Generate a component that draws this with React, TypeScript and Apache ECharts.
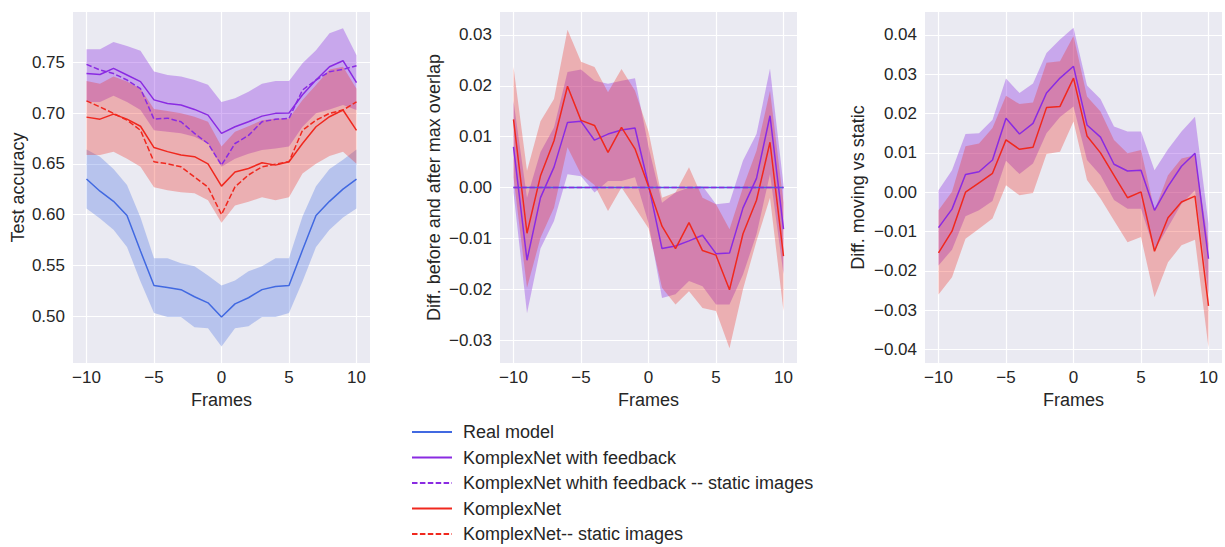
import React, { useEffect, useRef } from 'react';
import * as echarts from 'echarts';

const frames = [-10, -9, -8, -7, -6, -5, -4, -3, -2, -1, 0, 1, 2, 3, 4, 5, 6, 7, 8, 9, 10];
const xTicks = [-10, -5, 0, 5, 10];
const yTicks1 = [0.5, 0.55, 0.6, 0.65, 0.7, 0.75];
const yTicks2 = [-0.03, -0.02, -0.01, 0, 0.01, 0.02, 0.03];
const yTicks3 = [-0.04, -0.03, -0.02, -0.01, 0, 0.01, 0.02, 0.03, 0.04];

const legendNames = [
  'Real model',
  'KomplexNet with feedback',
  'KomplexNet whith feedback -- static images',
  'KomplexNet',
  'KomplexNet-- static images',
];

// Panel 1: test accuracy
const realMean = [0.635, 0.623, 0.613, 0.599, 0.564, 0.530, 0.528, 0.526, 0.519, 0.513, 0.499, 0.512, 0.518, 0.526, 0.529, 0.530, 0.565, 0.599, 0.613, 0.625, 0.635];
const realLo = [0.606, 0.596, 0.585, 0.568, 0.534, 0.503, 0.499, 0.499, 0.489, 0.488, 0.470, 0.488, 0.490, 0.499, 0.499, 0.503, 0.534, 0.568, 0.585, 0.597, 0.606];
const realHi = [0.664, 0.657, 0.645, 0.629, 0.597, 0.557, 0.557, 0.552, 0.549, 0.540, 0.530, 0.535, 0.544, 0.549, 0.557, 0.557, 0.598, 0.628, 0.645, 0.654, 0.664];

const fbMean = [0.739, 0.738, 0.744, 0.7375, 0.731, 0.713, 0.7095, 0.708, 0.7036, 0.698, 0.680, 0.6865, 0.6914, 0.697, 0.6997, 0.700, 0.718, 0.7326, 0.7457, 0.7516, 0.730];
const fbHi = [0.763, 0.763, 0.770, 0.766, 0.7615, 0.741, 0.7375, 0.736, 0.7325, 0.728, 0.711, 0.7145, 0.721, 0.729, 0.7316, 0.7316, 0.749, 0.762, 0.7786, 0.7836, 0.757];
const fbLo = [0.711, 0.711, 0.717, 0.711, 0.703, 0.683, 0.6816, 0.680, 0.6767, 0.670, 0.647, 0.655, 0.660, 0.6635, 0.665, 0.667, 0.6865, 0.6997, 0.7036, 0.708, 0.703];
const fbStatic = [0.748, 0.7424, 0.739, 0.7326, 0.724, 0.694, 0.695, 0.6914, 0.680, 0.670, 0.6487, 0.670, 0.678, 0.6914, 0.6938, 0.6947, 0.7227, 0.7326, 0.7408, 0.743, 0.7467];

const knMean = [0.696, 0.694, 0.699, 0.694, 0.687, 0.666, 0.662, 0.6586, 0.657, 0.650, 0.628, 0.642, 0.6454, 0.651, 0.6487, 0.652, 0.670, 0.6865, 0.6964, 0.703, 0.683];
const knHi = [0.7316, 0.729, 0.736, 0.731, 0.724, 0.704, 0.702, 0.6997, 0.6964, 0.6914, 0.667, 0.6816, 0.687, 0.693, 0.6947, 0.6947, 0.713, 0.7276, 0.743, 0.7457, 0.724];
const knLo = [0.6586, 0.6586, 0.662, 0.655, 0.647, 0.627, 0.624, 0.622, 0.621, 0.614, 0.592, 0.609, 0.6125, 0.617, 0.614, 0.617, 0.6405, 0.650, 0.6576, 0.662, 0.650];
const knStatic = [0.712, 0.706, 0.6997, 0.693, 0.683, 0.652, 0.650, 0.647, 0.637, 0.627, 0.600, 0.6273, 0.639, 0.647, 0.6497, 0.652, 0.683, 0.693, 0.6997, 0.703, 0.711];

// Panel 2: diff before and after max overlap
const zeroLine = [0, 0, 0, 0, 0, 0, 0, 0, 0, 0, 0, 0, 0, 0, 0, 0, 0, 0, 0, 0, 0];
const fbOvMean = [0.008, -0.0143, -0.002, 0.004, 0.0128, 0.013, 0.0093, 0.0105, 0.0113, 0.0117, 0.0005, -0.012, -0.0115, -0.0105, -0.0094, -0.013, -0.0129, -0.004, 0.0018, 0.0141, -0.0082];
const fbOvHi = [0.017, -0.002, 0.007, 0.0118, 0.0227, 0.0232, 0.021, 0.0204, 0.021, 0.0215, 0.008, -0.003, -0.001, 0.0, 0.0003, -0.0033, -0.003, 0.0053, 0.0105, 0.0234, 0.0005];
const fbOvLo = [-0.001, -0.0247, -0.012, -0.0066, 0.0026, 0.0022, -0.001, 0.0013, 0.0013, 0.002, -0.007, -0.0217, -0.021, -0.0184, -0.0194, -0.023, -0.023, -0.0171, -0.0092, 0.0026, -0.017];
const knOvMean = [0.0134, -0.009, 0.0023, 0.0092, 0.0199, 0.0132, 0.0122, 0.0069, 0.0118, 0.0076, 0.0002, -0.0076, -0.012, -0.0069, -0.0124, -0.0133, -0.0201, -0.0091, -0.0025, 0.0089, -0.0135];
const knOvHi = [0.0237, 0.0033, 0.013, 0.0174, 0.031, 0.0247, 0.0237, 0.0187, 0.0233, 0.019, 0.011, -0.002, -0.001, 0.004, -0.002, -0.0033, -0.0082, 0.0, 0.0072, 0.019, -0.003];
const knOvLo = [0.002, -0.0197, -0.0099, -0.004, 0.0079, 0.0026, 0.0005, -0.0046, 0.0, -0.004, -0.008, -0.0197, -0.023, -0.0204, -0.0237, -0.0243, -0.0316, -0.02, -0.0105, -0.002, -0.0243];

// Panel 3: diff moving vs static
const fbMvMean = [-0.009, -0.0043, 0.0045, 0.0052, 0.0082, 0.0188, 0.0148, 0.0175, 0.0252, 0.029, 0.032, 0.0171, 0.014, 0.0071, 0.0054, 0.0056, -0.0046, 0.0015, 0.0066, 0.0099, -0.0169];
const fbMvHi = [0.0005, 0.0056, 0.0148, 0.015, 0.0184, 0.0289, 0.0252, 0.0276, 0.0354, 0.0388, 0.0418, 0.0271, 0.0237, 0.0167, 0.0154, 0.0154, 0.0056, 0.0109, 0.0154, 0.0192, -0.008];
const fbMvLo = [-0.0186, -0.0146, -0.0061, -0.0046, -0.0022, 0.008, 0.0046, 0.0073, 0.015, 0.0191, 0.0218, 0.0082, 0.0043, -0.002, -0.0042, -0.0042, -0.0148, -0.0089, -0.0029, 0.0005, -0.0259];
const knMvMean = [-0.0154, -0.0099, 0.0, 0.0024, 0.0048, 0.0133, 0.0109, 0.0114, 0.0215, 0.0218, 0.029, 0.0143, 0.01, 0.0043, -0.0014, 0.0001, -0.015, -0.0065, -0.0025, -0.001, -0.0289];
const knMvHi = [-0.0046, 0.0001, 0.0117, 0.0124, 0.0163, 0.0245, 0.0224, 0.0228, 0.0329, 0.0333, 0.0397, 0.0243, 0.0205, 0.0133, 0.0099, 0.0107, -0.0046, 0.0043, 0.0086, 0.0094, -0.0131];
const knMvLo = [-0.026, -0.0216, -0.0118, -0.0093, -0.0067, 0.0018, -0.0008, -0.0002, 0.0097, 0.0103, 0.018, 0.0031, -0.0016, -0.0072, -0.0127, -0.0114, -0.0267, -0.0178, -0.0135, -0.0121, -0.0395];

const C_REAL = '#4169E1';
const C_FB = '#8A2BE2';
const C_KN = '#F0281E';
const FONT = '"Liberation Sans", Arial, sans-serif';
const TXT = '#262626';
const DASH = [5.5, 2.4];
const TICK_FS = 17;
const LABEL_FS = 18;

const pairs = (ys: number[]) => frames.map((f, i) => [f, ys[i]]);

function band(id: string, lo: number[], hi: number[], color: string, opacity: number, g: number) {
  return {
    type: 'custom',
    name: id,
    xAxisIndex: g,
    yAxisIndex: g,
    silent: true,
    clip: true,
    z: 1,
    data: frames.map((f, i) => [f, lo[i], hi[i]]),
    encode: { x: 0, y: [1, 2] },
    renderItem: (params: any, api: any) => {
      if (params.dataIndex !== 0) return null;
      const top = frames.map((f, i) => api.coord([f, hi[i]]));
      const bot = frames.map((f, i) => api.coord([f, lo[i]])).reverse();
      return {
        type: 'polygon',
        shape: { points: top.concat(bot) },
        style: { fill: color, opacity },
      };
    },
  };
}

function line(name: string, ys: number[], color: string, g: number, dashed = false, z = 3) {
  return {
    type: 'line',
    name,
    xAxisIndex: g,
    yAxisIndex: g,
    data: pairs(ys),
    color,
    symbol: 'none',
    silent: true,
    lineStyle: { color, width: 1.5, type: dashed ? DASH : 'solid' },
    z,
  };
}

const minus = (s: string) => s.replace('-', '\u2212');

function xAxis(g: number) {
  return {
    type: 'value',
    gridIndex: g,
    min: -11,
    max: 11,
    name: 'Frames',
    nameLocation: 'middle',
    nameGap: 25,
    nameTextStyle: { fontSize: LABEL_FS, color: TXT, fontFamily: FONT },
    axisLine: { show: false },
    axisTick: { show: false, customValues: xTicks },
    axisLabel: {
      customValues: xTicks,
      fontSize: TICK_FS,
      color: TXT,
      fontFamily: FONT,
      margin: 6,
      formatter: (v: number) => minus(String(v)),
    },
    splitLine: { show: true, lineStyle: { color: '#ffffff', width: 1.2 } },
  };
}

function yAxis(g: number, min: number, max: number, ticks: number[], name: string, gap: number) {
  return {
    type: 'value',
    gridIndex: g,
    min,
    max,
    name,
    nameLocation: 'middle',
    nameGap: gap,
    nameTextStyle: { fontSize: LABEL_FS, color: TXT, fontFamily: FONT },
    axisLine: { show: false },
    axisTick: { show: false, customValues: ticks },
    axisLabel: {
      customValues: ticks,
      fontSize: TICK_FS,
      color: TXT,
      fontFamily: FONT,
      margin: 8,
      formatter: (v: number) => minus(v.toFixed(2)),
    },
    splitLine: { show: true, lineStyle: { color: '#ffffff', width: 1.2 } },
  };
}

export default function App() {
  const ref = useRef<HTMLDivElement>(null);
  useEffect(() => {
    if (!ref.current) return;
    const chart = echarts.init(ref.current, null, { renderer: 'svg' });
    const gridBase = { top: 12, height: 351, width: 297, show: true, backgroundColor: '#EAEAF2', borderWidth: 0 };
    const option: any = {
      animation: false,
      backgroundColor: '#ffffff',
      textStyle: { fontFamily: FONT },
      grid: [
        { ...gridBase, left: 73 },
        { ...gridBase, left: 500 },
        { ...gridBase, left: 925 },
      ],
      xAxis: [xAxis(0), xAxis(1), xAxis(2)],
      yAxis: [
        yAxis(0, 0.4537, 0.7996, yTicks1, 'Test accuracy', 46),
        yAxis(1, -0.0345, 0.0345, yTicks2, 'Diff. before and after max overlap', 57),
        yAxis(2, -0.0434, 0.0458, yTicks3, 'Diff. moving vs static', 58),
      ],
      legend: {
        orient: 'vertical',
        left: 411,
        top: 423,
        padding: 0,
        itemWidth: 40,
        itemHeight: 12,
        itemGap: 7.5,
        selectedMode: false,
        data: legendNames,
        itemStyle: { opacity: 0 },
        textStyle: { fontSize: LABEL_FS, lineHeight: 18, color: TXT, fontFamily: FONT, padding: [0, 0, 0, 6] },
      },
      series: [
        // panel 1
        band('p1real', realLo, realHi, C_REAL, 0.3, 0),
        band('p1fb', fbLo, fbHi, C_FB, 0.35, 0),
        band('p1kn', knLo, knHi, C_KN, 0.3, 0),
        line(legendNames[0], realMean, C_REAL, 0),
        line(legendNames[1], fbMean, C_FB, 0),
        line(legendNames[2], fbStatic, C_FB, 0, true),
        line(legendNames[3], knMean, C_KN, 0),
        line(legendNames[4], knStatic, C_KN, 0, true),
        // panel 2
        band('p2fb', fbOvLo, fbOvHi, C_FB, 0.35, 1),
        band('p2kn', knOvLo, knOvHi, C_KN, 0.3, 1),
        line(legendNames[0], zeroLine, C_REAL, 1, false, 3),
        line(legendNames[2], zeroLine, C_FB, 1, true, 4),
        line(legendNames[1], fbOvMean, C_FB, 1),
        line(legendNames[3], knOvMean, C_KN, 1),
        // panel 3
        band('p3fb', fbMvLo, fbMvHi, C_FB, 0.35, 2),
        band('p3kn', knMvLo, knMvHi, C_KN, 0.3, 2),
        line(legendNames[1], fbMvMean, C_FB, 2),
        line(legendNames[3], knMvMean, C_KN, 2),
      ],
    };
    chart.setOption(option);
    return () => chart.dispose();
  }, []);
  return (
    <div
      ref={ref}
      style={{ position: 'absolute', left: 0, top: 0, width: 1225, height: 547 }}
    />
  );
}
